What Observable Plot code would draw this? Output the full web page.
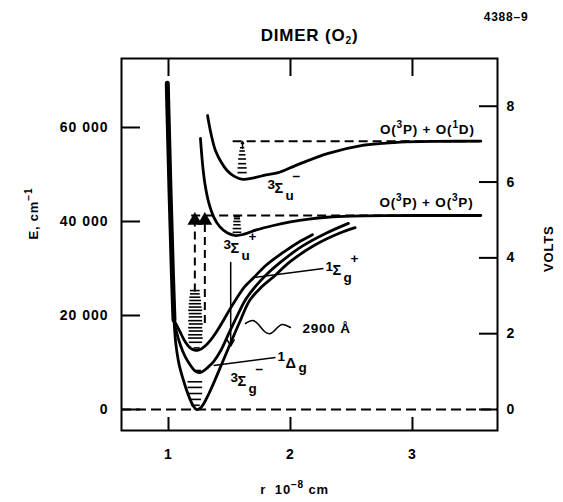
<!DOCTYPE html>
<html><head><meta charset="utf-8">
<script src="https://cdn.jsdelivr.net/npm/d3@7"></script>
<script src="https://cdn.jsdelivr.net/npm/@observablehq/plot@0.6"></script>
<style>body{margin:0;background:#fff} svg text{letter-spacing:0.8px}</style>
</head><body><div id="chart"></div>
<script>
// ---------- data (r in 1e-8 cm, E in cm^-1) ----------
const wallR = [0.99, 0.995, 1.003, 1.012, 1.022, 1.032, 1.045];
const wallE = [69400, 64000, 56000, 47000, 38000, 29000, 19000];

const groundR = [1.045, 1.06, 1.08, 1.10, 1.123, 1.15, 1.175, 1.20, 1.23, 1.26, 1.29, 1.33, 1.38, 1.44, 1.51, 1.59, 1.665, 1.76, 1.86, 2.0, 2.2, 2.4, 2.53];
const groundE = [19000, 14000, 10500, 8200, 6170, 4000, 2300, 900, 0, 300, 1300, 3300, 6200, 9900, 14200, 19000, 23190, 26000, 28200, 31500, 35000, 37500, 38700];

const deltaR = [1.045, 1.065, 1.09, 1.115, 1.14, 1.17, 1.20, 1.225, 1.25, 1.28, 1.32, 1.37, 1.43, 1.50, 1.57, 1.63, 1.72, 1.81, 1.95, 2.1, 2.3, 2.475];
const deltaE = [19000, 16600, 14300, 12500, 11100, 9800, 8700, 8050, 7870, 8100, 8900, 10200, 12600, 16500, 20300, 23300, 26400, 28900, 32000, 34800, 37600, 39600];

const sigmaGR = [1.045, 1.07, 1.095, 1.12, 1.145, 1.17, 1.195, 1.22, 1.245, 1.27, 1.30, 1.34, 1.39, 1.44, 1.50, 1.55, 1.62, 1.70, 1.80, 1.95, 2.08, 2.18];
const sigmaGE = [19000, 17800, 16500, 15200, 14100, 13300, 12800, 12600, 12650, 12900, 13500, 14600, 16400, 18500, 21200, 23300, 26000, 28100, 30700, 33600, 35800, 37200];

const sigmaUPlusR = [1.262, 1.28, 1.30, 1.33, 1.37, 1.42, 1.48, 1.55, 1.62, 1.72, 1.86, 2.0, 2.15, 2.3, 2.5, 2.8, 3.2, 3.56];
const sigmaUPlusE = [57660, 52000, 47800, 44000, 41000, 38900, 37600, 37000, 37300, 38200, 39150, 39900, 40500, 40900, 41150, 41260, 41280, 41280];

const sigmaUMinusR = [1.32, 1.35, 1.385, 1.43, 1.48, 1.54, 1.61, 1.70, 1.80, 1.90, 2.05, 2.31, 2.59, 2.75, 2.9, 3.2, 3.56];
const sigmaUMinusE = [62550, 58500, 55100, 52700, 50850, 49600, 48950, 49300, 49900, 50400, 52000, 54500, 56200, 56600, 56900, 57050, 57080];

// dissociation limits
const limitE = [41280, 57080];
const limitR1 = [1.19, 1.53];
const limitR2 = [3.56, 3.56];
const limitText = ["O(^3P) + O(^3P)", "O(^3P) + O(^1D)"];
const limitTextR = [3.50, 3.51];
const limitTextE = [44043, 59574];

// vibrational levels
const levelE  = [900, 2150, 3400, 4700, 5900, 8300, 13100,
  14300, 15200, 15900, 16700, 17400, 18200, 18900, 19700, 20400, 21100, 21800, 22500, 23200, 23900, 24600, 25300,
  37700, 38500, 39300, 40000, 40600, 41000,
  50400, 51400, 52300, 53300, 54200, 55000, 55700];
const levelR1 = [1.19, 1.17, 1.16, 1.16, 1.16, 1.21, 1.21,
  1.17, 1.165, 1.165, 1.17, 1.165, 1.17, 1.165, 1.17, 1.17, 1.165, 1.17, 1.17, 1.175, 1.175, 1.18, 1.18,
  1.53, 1.53, 1.535, 1.535, 1.54, 1.54,
  1.57, 1.57, 1.575, 1.575, 1.58, 1.585, 1.59];
const levelR2 = [1.26, 1.27, 1.28, 1.28, 1.28, 1.27, 1.26,
  1.28, 1.285, 1.28, 1.285, 1.28, 1.285, 1.28, 1.28, 1.275, 1.28, 1.275, 1.27, 1.27, 1.265, 1.26, 1.26,
  1.60, 1.60, 1.595, 1.595, 1.59, 1.59,
  1.645, 1.645, 1.64, 1.64, 1.635, 1.63, 1.625];

// excitation arrows (dashed, with triangles at the top)
const excR = [1.216, 1.298];
const excTopE = [40200, 40200];
const excBottomE = [25000, 18300];

// 2900 Å transition line and wavy photon
const transR = [1.51];
const transTopE = [31300];
const transBottomE = [13500];
const waveR = [1.631, 1.689, 1.738, 1.787, 1.836, 1.885, 1.934, 2.0];
const waveE = [18298, 18936, 18085, 16596, 16170, 17234, 18085, 17447];
const bUpR = [1.607];
const bUpE1 = [55600];
const bUpE2 = [57000];

// label pointers
const ptrR1 = [1.70, 1.37];
const ptrE1 = [28090, 9360];
const ptrR2 = [2.27, 1.877];
const ptrE2 = [29990, 11060];

// term-symbol labels
const termR = [1.811, 1.451, 2.287, 1.893, 1.508];
const termE = [47020, 34256, 29575, 9787, 5957];
const termLead = ["3", "3", "1", "1", "3"];
const termSym = ["Σ", "Σ", "Σ", "Δ", "Σ"];
const termSub = ["u", "u", "g", "g", "g"];
const termSup = ["−", "+", "+", "", "−"];

const photonLabel = "2900 Å";
const photonR = 2.098, photonE = 17234;

// axes
const xTicks = [1, 2, 3];
const yTicks = [0, 20000, 40000, 60000];
const yTickLabels = ["0", "20 000", "40 000", "60 000"];
const voltTicks = [0, 2, 4, 6, 8];
const cmPerVolt = 8065.5;

const title = "DIMER (O_2)";
const figNo = "4388–9";
const xLabel = "r  10^{−8} cm";
const yLabel = "E, cm^{−1}";
const y2Label = "VOLTS";

// ---------- build ----------
const X0 = 0.6148, X1 = 3.697, Y0 = -4468, Y1 = 74680;
const W = 563, H = 502, mL = 121, mR = 66, mT = 58, mB = 72;
const pxX = (X1 - X0) / (W - mL - mR);
const pxY = (Y1 - Y0) / (H - mT - mB);

const pts = (rs, es) => rs.map((r, i) => ({r, E: es[i]}));
const curves = [
  pts(groundR, groundE), pts(deltaR, deltaE), pts(sigmaGR, sigmaGE),
  pts(sigmaUPlusR, sigmaUPlusE), pts(sigmaUMinusR, sigmaUMinusE)
];
const limits = limitE.map((E, i) => ({E, r1: limitR1[i], r2: limitR2[i], t: limitText[i], tr: limitTextR[i], te: limitTextE[i]}));
const levels = levelE.map((E, i) => ({E, r1: levelR1[i], r2: levelR2[i]}));
const exc = excR.map((r, i) => ({r, top: excTopE[i], bot: excBottomE[i]}));
const trans = transR.map((r, i) => ({r, top: transTopE[i], bot: transBottomE[i]}));
const bUp = bUpR.map((r, i) => ({r, e1: bUpE1[i], e2: bUpE2[i]}));
const ptrs = ptrR1.map((r, i) => ({r1: r, e1: ptrE1[i], r2: ptrR2[i], e2: ptrE2[i]}));
const terms = termR.map((r, i) => ({r, E: termE[i], lead: termLead[i], sym: termSym[i], sub: termSub[i], sup: termSup[i]}));

const FONT = "Liberation Sans, Arial, Helvetica, sans-serif";
const txt = {fontFamily: FONT, fontWeight: "bold", fill: "black"};

function termParts() {
  const marks = [];
  const isDelta = d => d.sym === "Δ";
  const nd = terms.filter(d => !isDelta(d)), dl = terms.filter(isDelta);
  const base = {...txt, x: "r", y: "E", textAnchor: "start"};
  marks.push(Plot.text(nd, {...base, text: "lead", fontSize: 13.5, dy: -4}));
  marks.push(Plot.text(dl, {...base, text: "lead", fontSize: 13.5, dy: -7}));
  marks.push(Plot.text(nd, {...base, text: "sym", fontSize: 14.5, dx: 7}));
  marks.push(Plot.text(dl, {...base, text: "sym", fontSize: 14.5, dx: 8}));
  marks.push(Plot.text(nd, {...base, text: "sub", fontSize: 13.5, dx: 18, dy: 7}));
  marks.push(Plot.text(dl, {...base, text: "sub", fontSize: 13.5, dx: 21, dy: 4}));
  marks.push(Plot.text(terms.filter(d => d.sup), {...base, text: "sup", fontSize: 13.5, dx: 25, dy: -12}));
  return marks;
}

const chart = Plot.plot({
  width: W, height: H,
  marginLeft: mL, marginRight: mR, marginTop: mT, marginBottom: mB,
  x: {domain: [X0, X1], axis: null},
  y: {domain: [Y0, Y1], axis: null},
  style: {background: "white", fontFamily: FONT},
  marks: [
    Plot.ruleY([0], {stroke: "black", strokeWidth: 2, strokeDasharray: "10,5"}),
    Plot.ruleY(limits, {y: "E", x1: "r1", x2: "r2", stroke: "black", strokeWidth: 2, strokeDasharray: "9,5"}),
    Plot.ruleY(levels, {y: "E", x1: "r1", x2: "r2", stroke: "black", strokeWidth: 1.6}),
    Plot.ruleX(exc, {x: "r", y1: "bot", y2: "top", stroke: "black", strokeWidth: 2, strokeDasharray: "8,5"}),
    Plot.dot(exc, {x: "r", y: "top", symbol: "triangle", fill: "black", r: 5.5}),
    Plot.line(pts(wallR, wallE), {x: "r", y: "E", curve: "catmull-rom", stroke: "black", strokeWidth: 5, strokeLinecap: "round"}),
    ...curves.map(c => Plot.line(c, {x: "r", y: "E", curve: "catmull-rom", stroke: "black", strokeWidth: 2.8, strokeLinecap: "round"})),
    Plot.arrow(trans, {x1: "r", y1: "top", x2: "r", y2: "bot", stroke: "black", strokeWidth: 1.5, headLength: 7}),
    Plot.line(pts(waveR, waveE), {x: "r", y: "E", curve: "natural", stroke: "black", strokeWidth: 1.5}),
    Plot.arrow(bUp, {x1: "r", y1: "e1", x2: "r", y2: "e2", stroke: "black", strokeWidth: 1.5, headLength: 5}),
    Plot.link(ptrs, {x1: "r1", y1: "e1", x2: "r2", y2: "e2", stroke: "black", strokeWidth: 1.5}),
    ...termParts(),
    Plot.text([photonLabel], {...txt, x: () => photonR, y: () => photonE, text: d => d, textAnchor: "start", fontSize: 13.5}),
    Plot.text(limits, {...txt, x: "tr", y: "te", text: "t", textAnchor: "end", fontSize: 13.5}),
    Plot.frame({stroke: "black", strokeWidth: 2}),
    Plot.ruleY(yTicks, {y: d => d, x1: () => X0, x2: () => X0 + 19 * pxX, stroke: "black", strokeWidth: 2}),
    Plot.ruleY(voltTicks, {y: v => v * cmPerVolt, x1: () => X1 - 18 * pxX, x2: () => X1, stroke: "black", strokeWidth: 2}),
    Plot.ruleX(xTicks, {x: d => d, y1: () => Y1 - 18 * pxY, y2: () => Y1, stroke: "black", strokeWidth: 2}),
    Plot.ruleX(xTicks, {x: d => d, y1: () => Y0, y2: () => Y0 + 13 * pxY, stroke: "black", strokeWidth: 2}),
    Plot.text(yTicks, {...txt, y: d => d, text: (d, i) => yTickLabels[i], frameAnchor: "left", textAnchor: "end", dx: -13, fontSize: 14}),
    Plot.text(voltTicks, {...txt, y: v => v * cmPerVolt, text: v => String(v), frameAnchor: "right", textAnchor: "start", dx: 9, fontSize: 14}),
    Plot.text(xTicks, {...txt, x: d => d, text: d => String(d), frameAnchor: "bottom", dy: 28, fontSize: 14}),
    Plot.text([yLabel], {...txt, text: d => d, frameAnchor: "left", dx: -88, dy: -5, rotate: -90, fontSize: 13}),
    Plot.text([y2Label], {...txt, text: d => d, frameAnchor: "right", dx: 51, dy: -19, rotate: -90, fontSize: 13}),
    Plot.text([xLabel], {...txt, text: d => d, frameAnchor: "bottom", dx: -15, dy: 63, fontSize: 13}),
    Plot.text([title], {...txt, text: d => d, frameAnchor: "top", dy: -30, fontSize: 17}),
    Plot.text([figNo], {...txt, text: d => d, frameAnchor: "top-right", dx: 31, dy: -46, fontSize: 12})
  ]
});

// render ^x / _x (or ^{..} / _{..}) as raised / lowered tspans
(function richify(svg) {
  const ns = "http://www.w3.org/2000/svg";
  svg.querySelectorAll("text").forEach(t => {
    const s = t.textContent;
    if (/^[\d ]+$/.test(s)) t.style.letterSpacing = "1px";
    if (!/[\^_]/.test(s)) return;
    const fs = parseFloat(getComputedStyle(t).fontSize) || 13;
    const segs = [];
    const re = /([\^_])(\{[^}]*\}|.)/g;
    let last = 0, m;
    while ((m = re.exec(s))) {
      if (m.index > last) segs.push({t: s.slice(last, m.index), k: 0});
      segs.push({t: m[2].replace(/^\{|\}$/g, ""), k: m[1] === "^" ? -1 : 1});
      last = re.lastIndex;
    }
    if (last < s.length) segs.push({t: s.slice(last), k: 0});
    t.textContent = "";
    let cur = 0;
    segs.forEach(seg => {
      const ts = document.createElementNS(ns, "tspan");
      ts.textContent = seg.t;
      const off = seg.k === -1 ? -0.42 * fs : seg.k === 1 ? 0.3 * fs : 0;
      if (off !== cur) ts.setAttribute("dy", (off - cur).toFixed(2));
      if (seg.k) ts.setAttribute("font-size", (0.78 * fs).toFixed(1));
      cur = off;
      t.appendChild(ts);
    });
  });
})(chart);

document.getElementById("chart").appendChild(chart);
</script>
</body></html>
